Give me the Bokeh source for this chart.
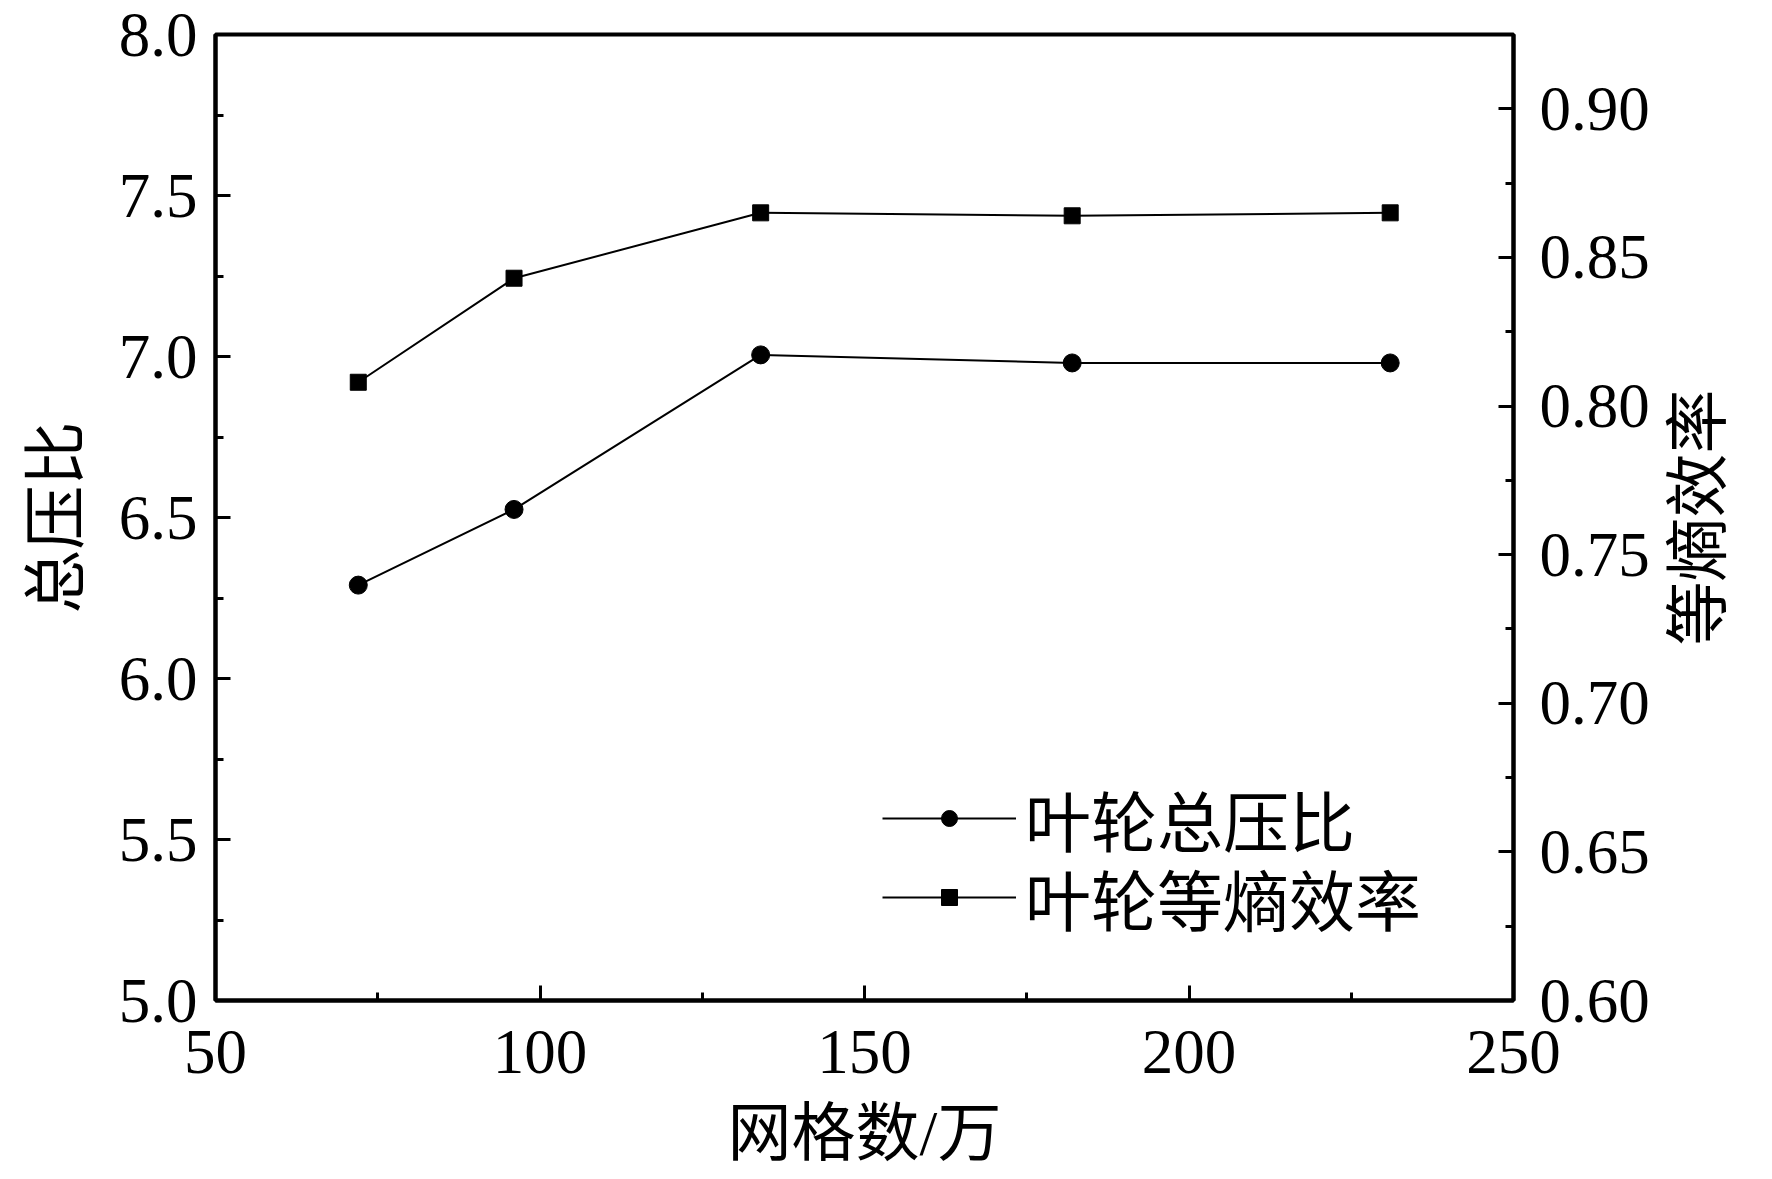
import math
from bokeh.plotting import figure
from bokeh.models import (Range1d, LinearAxis, SingleIntervalTicker, FixedTicker, Legend, LegendItem,
                          PrintfTickFormatter)
from bokeh.embed import file_html
from bokeh.resources import INLINE

# ---- data ----
grid_counts = [72, 96, 134, 182, 231]             # 网格数/万
pressure_ratio = [6.29, 6.525, 7.005, 6.98, 6.98]  # 叶轮总压比
efficiency = [0.808, 0.843, 0.865, 0.864, 0.865]  # 叶轮等熵效率

x_label = "网格数/万"
y_label = "总压比"
y2_label = "等熵效率"
legend_labels = ["叶轮总压比", "叶轮等熵效率"]

x_lim = (50, 250)
y_lim = (5.0, 8.0)
y2_lim = (0.60, 0.925)

SERIF = "'Liberation Serif', 'Noto Sans CJK SC'"

W, H = 1772, 1179
BORDER = dict(left=215, right=257, top=34, bottom=179)

p = figure(width=W, height=H, output_backend="svg", toolbar_location=None,
           x_range=Range1d(*x_lim), y_range=Range1d(*y_lim),
           min_border_left=BORDER["left"], min_border_right=BORDER["right"],
           min_border_top=BORDER["top"], min_border_bottom=BORDER["bottom"])
p.extra_y_ranges = {"eff": Range1d(*y2_lim)}
p.background_fill_color = "white"
p.border_fill_color = "white"
p.grid.visible = False
p.outline_line_color = "black"
p.outline_line_width = 4

line1 = p.line(grid_counts, pressure_ratio, line_color="black", line_width=2)
pts1 = p.scatter(grid_counts, pressure_ratio, marker="circle", size=18,
                 fill_color="black", line_color="black")
line2 = p.line(grid_counts, efficiency, line_color="black", line_width=2, y_range_name="eff")
pts2 = p.scatter(grid_counts, efficiency, marker="square", size=16,
                 fill_color="black", line_color="black", y_range_name="eff")

right_axis = LinearAxis(y_range_name="eff")
p.add_layout(right_axis, "right")

p.xaxis[0].ticker = SingleIntervalTicker(interval=50, num_minor_ticks=2)
p.yaxis[0].ticker = SingleIntervalTicker(interval=0.5, num_minor_ticks=2)
right_axis.ticker = SingleIntervalTicker(interval=0.05, num_minor_ticks=2)
right_axis.formatter = PrintfTickFormatter(format="%.2f")
p.yaxis[0].formatter = PrintfTickFormatter(format="%.1f")

for ax in [p.xaxis[0], p.yaxis[0], right_axis]:
    ax.axis_line_width = 4
    ax.axis_line_color = "black"
    ax.major_tick_line_width = 3
    ax.minor_tick_line_width = 3
    ax.major_tick_in = 15
    ax.major_tick_out = 0
    ax.minor_tick_in = 8
    ax.minor_tick_out = 0
    ax.major_label_text_font = SERIF
    ax.major_label_text_font_size = "63px"
    ax.major_label_text_color = "black"
    ax.axis_label_text_font = SERIF
    ax.axis_label_text_font_size = "64px"
    ax.axis_label_text_font_style = "normal"
    ax.axis_label_text_color = "black"

p.yaxis[0].major_label_standoff = 18
right_axis.major_label_standoff = 26
p.xaxis[0].major_label_standoff = 30

p.xaxis[0].axis_label = x_label
p.xaxis[0].axis_label_standoff = 22
p.yaxis[0].axis_label = y_label
p.yaxis[0].axis_label_standoff = 24

# right-hand title, reading bottom-to-top like the left one: a label-only axis
frame_h = H - BORDER["top"] - BORDER["bottom"]
y2_mid = (y2_lim[0] + y2_lim[1]) / 2
title_len_px = 4 * 64
y2_title_pos = round(y2_mid - (title_len_px / 2) * (y2_lim[1] - y2_lim[0]) / frame_h, 4)
title_axis = LinearAxis(y_range_name="eff", ticker=FixedTicker(ticks=[y2_title_pos]),
                        major_label_overrides={y2_title_pos: y2_label},
                        major_label_orientation=math.pi / 2)
title_axis.axis_line_color = None
title_axis.major_tick_line_color = None
title_axis.minor_tick_line_color = None
title_axis.major_tick_in = 0
title_axis.major_tick_out = 0
title_axis.major_label_standoff = 46
title_axis.major_label_text_font = SERIF
title_axis.major_label_text_font_size = "64px"
title_axis.major_label_text_color = "black"
p.add_layout(title_axis, "right")


def make_legend(label, renderers, offset_y):
    lg = Legend(items=[LegendItem(label=label, renderers=renderers)], location=(667, offset_y))
    lg.border_line_color = None
    lg.background_fill_alpha = 0
    lg.padding = 0
    lg.margin = 0
    lg.spacing = 0
    lg.glyph_width = 134
    lg.glyph_height = 40
    lg.label_standoff = 9
    lg.label_text_font = SERIF
    lg.label_text_font_size = "66px"
    lg.label_text_color = "black"
    return lg


p.add_layout(make_legend(legend_labels[0], [line1, pts1], 134), "center")
p.add_layout(make_legend(legend_labels[1], [line2, pts2], 55), "center")

open("out.html", "w").write(file_html(p, INLINE))
